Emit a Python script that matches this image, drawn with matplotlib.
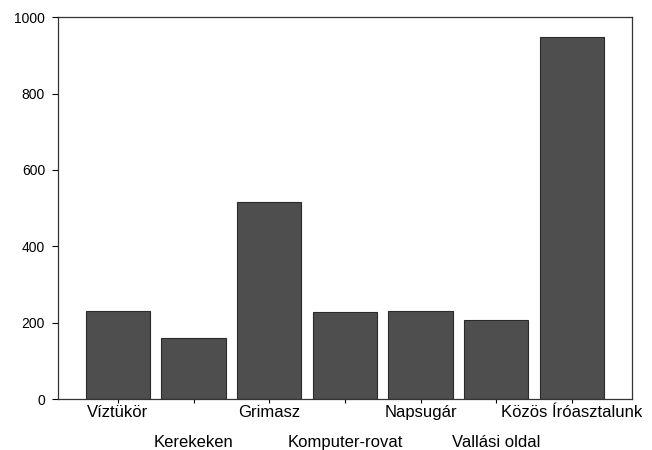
import numpy as np
import matplotlib.pyplot as plt

plt.rcParams['font.family'] = ['Liberation Sans', 'DejaVu Sans']

categories = ['Víztükör', 'Kerekeken', 'Grimasz', 'Komputer-rovat',
              'Napsugár', 'Vallási oldal', 'Közös Íróasztalunk']
values = [232, 161, 516, 228, 230, 207, 948]

x = np.arange(len(categories))

fig = plt.figure(figsize=(6.52, 4.5), dpi=100)
ax = fig.add_axes([0.089, 0.113, 0.88, 0.849])

ax.bar(x, values, width=0.85, color='#4e4e4e', edgecolor='#2a2a2a', linewidth=0.8)

ax.set_xlim(-0.79, 6.79)
ax.set_ylim(0, 1000)
ax.set_yticks([0, 200, 400, 600, 800, 1000])

# labels alternate between two rows
ax.set_xticks(x[::2], [categories[i] for i in x[::2]])
ax.set_xticks(x[1::2], [categories[i] for i in x[1::2]], minor=True)
ax.tick_params(axis='x', which='major', length=3, width=0.8, pad=1.5, labelsize=12)
ax.tick_params(axis='x', which='minor', length=3, width=0.8, pad=23, labelsize=12)
ax.tick_params(axis='y', length=4.3, width=0.8, pad=5, labelsize=10)

for s in ax.spines.values():
    s.set_linewidth(0.9)
    s.set_color('#333333')

fig.savefig('out.png', dpi=100)
